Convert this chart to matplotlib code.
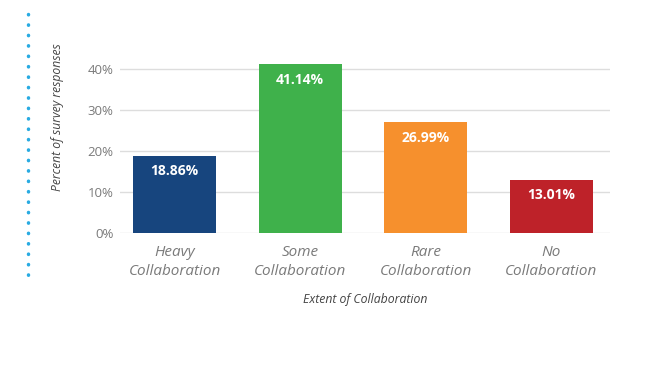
import matplotlib
matplotlib.use("Agg")
import matplotlib.pyplot as plt
from matplotlib.lines import Line2D

categories = ["Heavy\nCollaboration", "Some\nCollaboration", "Rare\nCollaboration", "No\nCollaboration"]
values = [18.86, 41.14, 26.99, 13.01]
colors = ["#17457e", "#3fb14b", "#f6902d", "#be2229"]
yticks = [0, 10, 20, 30, 40]
ytick_labels = ["0%", "10%", "20%", "30%", "40%"]

plt.rcParams['font.family'] = ['Open Sans', 'DejaVu Sans']

fig = plt.figure(figsize=(6.71, 3.89), dpi=100)
ax = fig.add_axes([120/671, 1-233/389, 490/671, (233-60.8)/389])

x = list(range(len(categories)))
ax.bar(x, values, width=0.66, color=colors, zorder=3)
for xi, v in zip(x, values):
    ax.text(xi, v - 2.0, f"{v:.2f}%", ha="center", va="top", color="white",
            fontsize=10, fontweight="bold", zorder=4)

ax.set_xlim(-0.434, 3.466)
ax.set_ylim(0, 42)
ax.set_yticks(yticks)
ax.set_yticklabels(ytick_labels, color="#7a7a7a", fontsize=9.5)
ax.set_xticks(x)
ax.set_xticklabels(categories, color="#7a7a7a", fontsize=11, style="italic", linespacing=1.3)
ax.tick_params(axis="both", length=0)
ax.tick_params(axis="x", pad=9)
ax.tick_params(axis="y", pad=4.5)
ax.yaxis.grid(True, color="#dddddd", linewidth=1, zorder=0)
for s in ax.spines.values():
    s.set_visible(False)

ax.set_xlabel("Extent of Collaboration", fontsize=8.8, style="italic", color="#444444", labelpad=10)
fig.text(57/671, 1-117/389, "Percent of survey responses", rotation=90, ha="center", va="center",
         fontsize=8.7, style="italic", color="#444444")

# dotted decorative line on the left
line = Line2D([28/671, 28/671], [1-14/389, 1-282/389], transform=fig.transFigure,
              linestyle=(0, (0.1, 2.9)), linewidth=2.5, color="#29abe2", dash_capstyle="round")
fig.add_artist(line)

fig.savefig("out.png", dpi=100)
